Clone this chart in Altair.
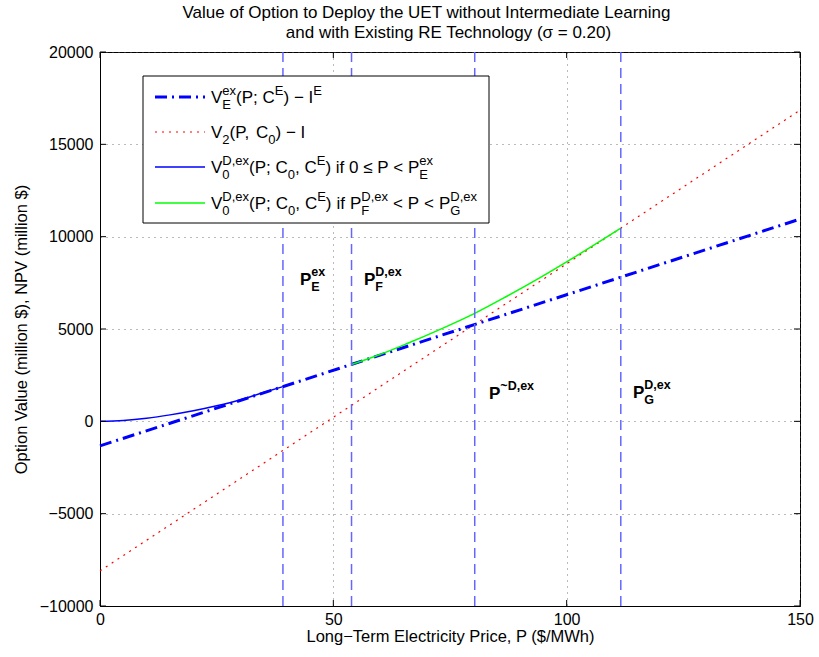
import altair as alt
import pandas as pd

# ---------------- data ----------------
P_ext = [0, 150]
V_ext = [-1330, 10950]          # V_E^ex(P; C^E) - I^E  (dash-dot blue)
P_v2 = [0, 150]
V_v2 = [-8100, 16850]           # V_2(P, C0) - I  (red dotted)
P_low = [0, 5, 10, 15, 20, 25, 30, 35, 39.2]
V_low = [0, 50, 170, 350, 570, 840, 1160, 1560, 1880]      # solid blue
P_high = [53.9, 60, 65.7, 72.9, 80.4, 87.1, 94.3, 101.4, 111.6]
V_high = [3080, 3620, 4200, 4980, 5860, 6760, 7780, 8850, 10460]  # green
thresholds = [39.2, 53.9, 80.3, 111.6]
x_ticks = [0, 50, 100, 150]
y_ticks = [-10000, -5000, 0, 5000, 10000, 15000, 20000]

title1 = "Value of Option to Deploy the UET without Intermediate Learning"
title2 = "and with Existing RE Technology (\u03c3 = 0.20)"
x_title = "Long\u2212Term Electricity Price, P ($/MWh)"
y_title = "Option Value (million $), NPV (million $)"

# ---------------- layout helpers ----------------
W, H = 700, 554
OX, OY = 100, 52
FONT = "Liberation Sans"

WN = {' ': 278, '(': 333, ')': 333, ';': 278, ',': 278, '\u2212': 584, '\u2264': 549,
      '<': 584, '0': 556, '2': 556, 'P': 667, 'V': 667, 'C': 722, 'E': 667, 'I': 278,
      'F': 611, 'G': 778, 'D': 722, 'e': 556, 'x': 500, 'i': 222, 'f': 278, '~': 584}
WB = dict(WN)
WB.update({'x': 556})


def tw(t, bold=False):
    tab = WB if bold else WN
    return sum(tab.get(c, 556) for c in t) / 1000.0


def natural(segs, fs, ss, bold=False):
    w, nsp = 0.0, 0
    for s in segs:
        if s[0] == 'n':
            w += tw(s[1], bold) * fs
            nsp += s[1].count(' ')
        elif s[0] in ('sub', 'sup'):
            w += tw(s[1], bold) * ss
        else:
            w += max(tw(s[1], bold), tw(s[2], bold)) * ss
    return w, nsp


def lay(segs, x0, base, fs, ss, sub_dy, sup_dy, bold=False, target=None):
    extra = 0.0
    if target is not None:
        w, nsp = natural(segs, fs, ss, bold)
        if nsp:
            extra = max(0.0, (target - x0 - w) / nsp)
    out = []
    x = x0
    for s in segs:
        k = s[0]
        if k == 'n':
            words = s[1].split(' ')
            for i, wd in enumerate(words):
                if i > 0:
                    x += tw(' ', bold) * fs + extra
                if wd:
                    out.append((x, base, wd, fs))
                    x += tw(wd, bold) * fs
        elif k == 'sub':
            out.append((x, base + sub_dy, s[1], ss)); x += tw(s[1], bold) * ss
        elif k == 'sup':
            out.append((x, base + sup_dy, s[1], ss)); x += tw(s[1], bold) * ss
        else:  # stacked sub / sup
            out.append((x, base + sub_dy, s[1], ss))
            out.append((x, base + sup_dy, s[2], ss))
            x += max(tw(s[1], bold), tw(s[2], bold)) * ss
    return out


leg_rows = [
    [('n', 'V'), ('ss', 'E', 'ex'), ('n', '(P; C'), ('sup', 'E'), ('n', ') \u2212 I'), ('sup', 'E')],
    [('n', 'V'), ('sub', '2'), ('n', '(P, C'), ('sub', '0'), ('n', ') \u2212 I')],
    [('n', 'V'), ('ss', '0', 'D,ex'), ('n', '(P; C'), ('sub', '0'), ('n', ', C'), ('sup', 'E'),
     ('n', ') if 0 \u2264 P < P'), ('ss', 'E', 'ex')],
    [('n', 'V'), ('ss', '0', 'D,ex'), ('n', '(P; C'), ('sub', '0'), ('n', ', C'), ('sup', 'E'),
     ('n', ') if P'), ('ss', 'F', 'D,ex'), ('n', ' < P < P'), ('ss', 'G', 'D,ex')],
]
leg_line_y = [97, 132, 167, 203]
leg_end_x = [322, 300, 433, 477]

norm = []
for segs, ly, ex in zip(leg_rows, leg_line_y, leg_end_x):
    norm += lay(segs, 211 - OX, ly + 6 - OY, 17, 13, 5.5, -8.5, target=ex - OX)

annos = [
    ([('n', 'P'), ('ss', 'E', 'ex')], 300, 285),
    ([('n', 'P'), ('ss', 'F', 'D,ex')], 364, 285),
    ([('n', 'P'), ('sup', '~D,ex')], 489, 399),
    ([('n', 'P'), ('ss', 'G', 'D,ex')], 633, 398),
]
bold = []
for segs, ax, ay in annos:
    bold += lay(segs, ax - OX, ay - OY, 17, 12.5, 6, -9, bold=True)

df_norm = pd.DataFrame(norm, columns=['x', 'y', 't', 's'])
df_bold = pd.DataFrame(bold, columns=['x', 'y', 't', 's'])

xs = alt.Scale(domain=[0, 150], nice=False, zero=False)
ys = alt.Scale(domain=[-10000, 20000], nice=False, zero=False)

one = pd.DataFrame({'a': [0]})

base_axes = alt.Chart(pd.DataFrame({'P': P_v2, 'V': V_v2})).mark_line(
    color='#ff0000', strokeWidth=1.2, strokeDash=[2, 5]
).encode(
    x=alt.X('P:Q', scale=xs, axis=alt.Axis(values=x_ticks, title=x_title, grid=True, ticks=False,
                                           labelPadding=5, titlePadding=1, format='d',
                                           labelFlush=False)),
    y=alt.Y('V:Q', scale=ys, axis=alt.Axis(values=y_ticks, title=y_title, grid=True, ticks=False,
                                           labelPadding=7, titlePadding=10, format='d',
                                           labelFlush=False)),
)

ext = alt.Chart(pd.DataFrame({'P': P_ext, 'V': V_ext})).mark_line(
    color='#0000ff', strokeWidth=3, strokeDash=[12, 5, 2, 5]
).encode(x=alt.X('P:Q', scale=xs), y=alt.Y('V:Q', scale=ys))

low = alt.Chart(pd.DataFrame({'P': P_low, 'V': V_low})).mark_line(
    color='#0000ff', strokeWidth=1.5, interpolate='monotone'
).encode(x=alt.X('P:Q', scale=xs), y=alt.Y('V:Q', scale=ys))

high = alt.Chart(pd.DataFrame({'P': P_high, 'V': V_high})).mark_line(
    color='#00ff00', strokeWidth=1.5, interpolate='monotone'
).encode(x=alt.X('P:Q', scale=xs), y=alt.Y('V:Q', scale=ys))

vlines = alt.Chart(pd.DataFrame({'P': thresholds})).mark_rule(
    color='#6666ff', strokeWidth=1.5, strokeDash=[10, 6]
).encode(x=alt.X('P:Q', scale=xs))

# inward ticks on all four sides
TL = 6
tick_x = pd.DataFrame({'P': x_ticks})
tick_y = pd.DataFrame({'V': y_ticks})
tb = alt.Chart(tick_x).mark_rule(color='black', strokeWidth=1).encode(
    x=alt.X('P:Q', scale=xs), y=alt.value(H), y2=alt.value(H - TL))
tt = alt.Chart(tick_x).mark_rule(color='black', strokeWidth=1).encode(
    x=alt.X('P:Q', scale=xs), y=alt.value(0), y2=alt.value(TL))
tlft = alt.Chart(tick_y).mark_rule(color='black', strokeWidth=1).encode(
    y=alt.Y('V:Q', scale=ys), x=alt.value(0), x2=alt.value(TL))
trgt = alt.Chart(tick_y).mark_rule(color='black', strokeWidth=1).encode(
    y=alt.Y('V:Q', scale=ys), x=alt.value(W), x2=alt.value(W - TL))

# legend
leg_box = alt.Chart(one).mark_rect(fill='white', stroke='black', strokeWidth=1).encode(
    x=alt.value(143 - OX), x2=alt.value(489 - OX), y=alt.value(76 - OY), y2=alt.value(223 - OY))
lx1, lx2 = 155 - OX, 205 - OX
leg_l1 = alt.Chart(one).mark_rule(color='#0000ff', strokeWidth=3, strokeDash=[12, 5, 2, 5]).encode(
    x=alt.value(lx1), x2=alt.value(lx2), y=alt.value(leg_line_y[0] - OY))
leg_l2 = alt.Chart(one).mark_rule(color='#ff0000', strokeWidth=1.2, strokeDash=[2, 5]).encode(
    x=alt.value(lx1), x2=alt.value(lx2), y=alt.value(leg_line_y[1] - OY))
leg_l3 = alt.Chart(one).mark_rule(color='#0000ff', strokeWidth=1.5).encode(
    x=alt.value(lx1), x2=alt.value(lx2), y=alt.value(leg_line_y[2] - OY))
leg_l4 = alt.Chart(one).mark_rule(color='#00ff00', strokeWidth=1.5).encode(
    x=alt.value(lx1), x2=alt.value(lx2), y=alt.value(leg_line_y[3] - OY))

txt_norm = alt.Chart(df_norm).mark_text(align='left', baseline='alphabetic', font=FONT, color='black').encode(
    x=alt.X('x:Q', scale=None), y=alt.Y('y:Q', scale=None), text='t:N', size=alt.Size('s:Q', scale=None))
txt_bold = alt.Chart(df_bold).mark_text(align='left', baseline='alphabetic', font=FONT, color='black',
                                        fontWeight='bold').encode(
    x=alt.X('x:Q', scale=None), y=alt.Y('y:Q', scale=None), text='t:N', size=alt.Size('s:Q', scale=None))

df_title = pd.DataFrame({'x': [426.5 - OX, 448.5 - OX], 'y': [18 - OY, 38 - OY], 't': [title1, title2]})
titles = alt.Chart(df_title).mark_text(align='center', baseline='alphabetic', font=FONT, fontSize=17,
                                       color='black').encode(
    x=alt.X('x:Q', scale=None), y=alt.Y('y:Q', scale=None), text='t:N')

chart = alt.layer(
    base_axes, ext, low, high, vlines, tb, tt, tlft, trgt,
    leg_box, leg_l1, leg_l2, leg_l3, leg_l4, txt_norm, txt_bold, titles
).properties(
    width=W, height=H,
    padding={'left': OX, 'top': OY, 'right': 819 - OX - W, 'bottom': 657 - OY - H},
    autosize=alt.AutoSizeParams(type='none'),
    background='white',
).configure_view(
    stroke='black', strokeWidth=1
).configure_axis(
    domainColor='black', domainWidth=1, gridColor='#555555', gridDash=[1, 5], gridWidth=1,
    gridOpacity=0.8, labelFont=FONT, labelFontSize=16, labelColor='black',
    titleFont=FONT, titleFontSize=16.5, titleFontWeight='normal', titleColor='black',
)

chart.save("out.html", embed_options={"renderer": "svg", "actions": False})
